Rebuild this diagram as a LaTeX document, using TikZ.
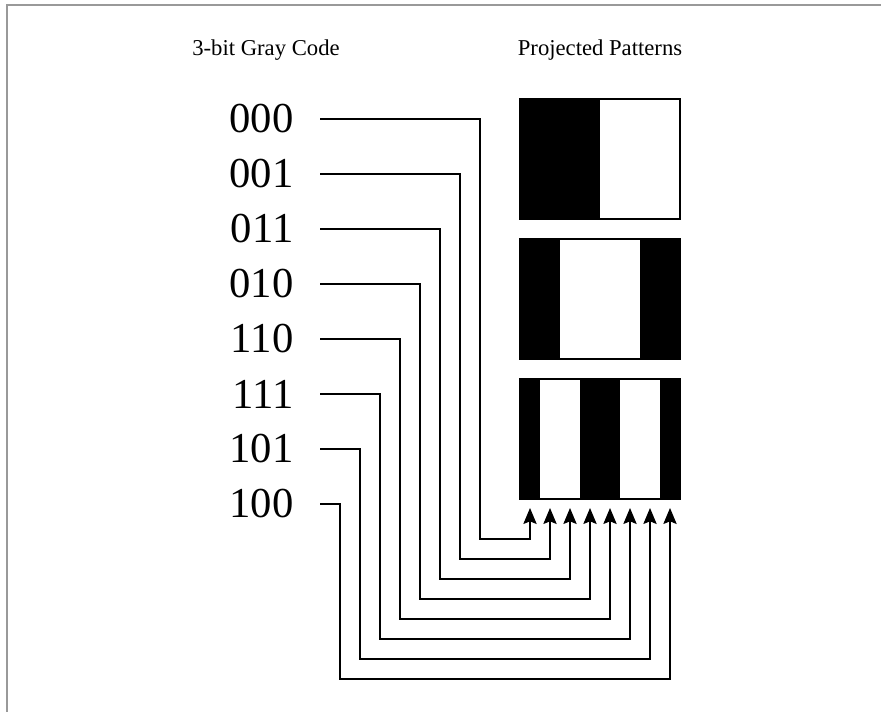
\documentclass[tikz,border=0pt]{standalone}
\usepackage{fontspec}
\setmainfont{Liberation Serif}
\usetikzlibrary{arrows, arrows.meta}
\usetikzlibrary{calc}

\tikzset{
  code/.style={font=\fontsize{32}{32}\selectfont, anchor=east, inner sep=0pt, outer xsep=20pt},
  heading/.style={font=\fontsize{17}{17}\selectfont, anchor=base},
  wire/.style={line width=0.8pt, -{Stealth[length=12pt, width=10pt, inset=2pt]}},
  stripebox/.style={draw, line width=1.5pt, minimum width=120pt, minimum height=90pt, inner sep=0pt, outer sep=0pt}
}

\begin{document}
\begin{tikzpicture}[x=0.75pt, y=-0.75pt]
        \useasboundingbox (0,0) rectangle (881,712);
        \draw [black!40, line width=1.5pt] (7,712) -- (7,5) -- (881,5);
        \node [heading] (graytitle) at (266,56) {3-bit Gray Code};
        \node [heading] (pattitle) at (600,56) {Projected Patterns};
        % patterns, black where the bit is 0
        \fill (520,99) rectangle (600,219);
        \node [stripebox] (p1) at (600,159) {};
        \fill (520,239) rectangle (560,359);
        \fill (640,239) rectangle (680,359);
        \node [stripebox] (p2) at (600,299) {};
        \fill (520,379) rectangle (540,499);
        \fill (580,379) rectangle (620,499);
        \fill (660,379) rectangle (680,499);
        \node [stripebox] (p3) at (600,439) {};
        % codes
        \node [code] (c0) at (320,119) {000};
        \node [code] (c1) at (320,174) {001};
        \node [code] (c2) at (320,229) {011};
        \node [code] (c3) at (320,284) {010};
        \node [code] (c4) at (320,339) {110};
        \node [code] (c5) at (320,394) {111};
        \node [code] (c6) at (320,449) {101};
        \node [code] (c7) at (320,504) {100};
        % arrow tips under the columns
        \coordinate (t0) at (530,508);
        \coordinate (t1) at (550,508);
        \coordinate (t2) at (570,508);
        \coordinate (t3) at (590,508);
        \coordinate (t4) at (610,508);
        \coordinate (t5) at (630,508);
        \coordinate (t6) at (650,508);
        \coordinate (t7) at (670,508);
        \draw [wire] (c0.east) -| (480,539) -| (t0);
        \draw [wire] (c1.east) -| (460,559) -| (t1);
        \draw [wire] (c2.east) -| (440,579) -| (t2);
        \draw [wire] (c3.east) -| (420,599) -| (t3);
        \draw [wire] (c4.east) -| (400,619) -| (t4);
        \draw [wire] (c5.east) -| (380,639) -| (t5);
        \draw [wire] (c6.east) -| (360,659) -| (t6);
        \draw [wire] (c7.east) -| (340,679) -| (t7);
    \end{tikzpicture}
\end{document}
